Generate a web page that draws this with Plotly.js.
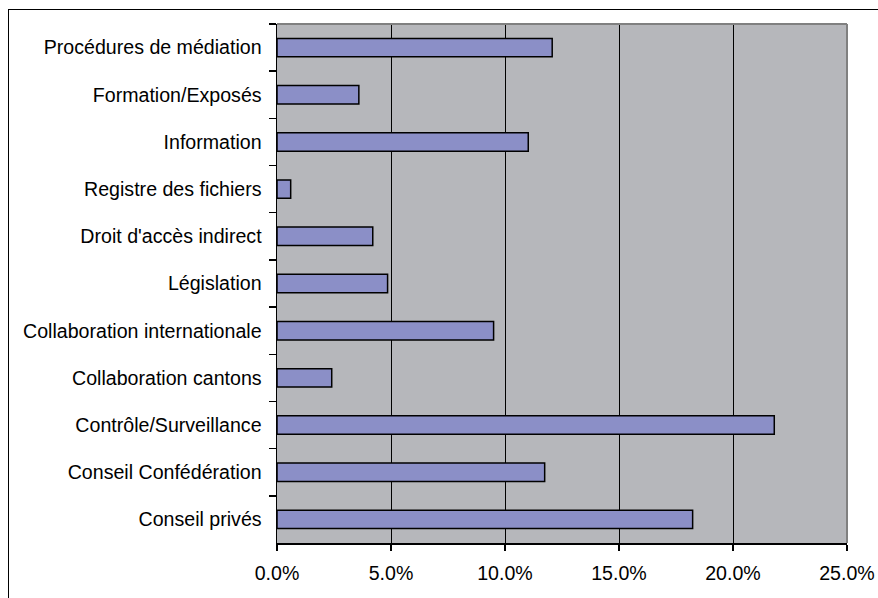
<!DOCTYPE html>
<html>
<head>
<meta charset="utf-8">
<script src="https://cdn.plot.ly/plotly-3.0.1.min.js"></script>
<style>
  html, body { margin: 0; padding: 0; background: #ffffff; }
  #wrap { position: relative; width: 878px; height: 598px; overflow: hidden; }
  #frame { position: absolute; left: 8px; top: 9px; width: 900px; height: 700px;
           border-left: 1.5px solid #000; border-top: 1.5px solid #000; }
  #chart { position: absolute; left: 0; top: 0; width: 878px; height: 598px; }
</style>
</head>
<body>
<div id="wrap">
  <div id="frame"></div>
  <div id="chart"></div>
</div>
<script>
const categories = [
  "Procédures de médiation",
  "Formation/Exposés",
  "Information",
  "Registre des fichiers",
  "Droit d'accès indirect",
  "Législation",
  "Collaboration internationale",
  "Collaboration cantons",
  "Contrôle/Surveillance",
  "Conseil Confédération",
  "Conseil privés"
];
const shares = [0.1207, 0.0359, 0.1102, 0.0060, 0.0420, 0.0485, 0.0950, 0.0240, 0.2181, 0.1174, 0.1823];
const xTickVals = [0, 0.05, 0.10, 0.15, 0.20, 0.25];
const xTickText = ["0.0%", "5.0%", "10.0%", "15.0%", "20.0%", "25.0%"];

const font = { family: "Liberation Sans, Arial, sans-serif", size: 19.6, color: "#000000" };

const trace = {
  type: "bar",
  orientation: "h",
  y: categories,
  x: shares,
  marker: { color: "#8b8fc7", line: { color: "#000000", width: 1.5 } },
  hoverinfo: "skip"
};

const layout = {
  width: 878,
  height: 598,
  margin: { l: 277, r: 31, t: 24, b: 55, pad: 0 },
  paper_bgcolor: "rgba(0,0,0,0)",
  plot_bgcolor: "#b6b7bb",
  font: font,
  showlegend: false,
  bargap: 0.61,
  xaxis: {
    range: [0, 0.25],
    tickvals: xTickVals,
    ticktext: xTickText,
    showgrid: true,
    gridcolor: "#000000",
    gridwidth: 1,
    zeroline: false,
    showline: true,
    linecolor: "#000000",
    linewidth: 1.5,
    ticks: "outside",
    ticklen: 6,
    tickcolor: "#000000",
    tickwidth: 1.5,
    ticklabelstandoff: 6,
    tickfont: font
  },
  yaxis: {
    type: "category",
    range: [10.5, -0.5],
    showgrid: false,
    zeroline: false,
    showline: true,
    linecolor: "#000000",
    linewidth: 1.5,
    ticks: "outside",
    tickson: "boundaries",
    ticklen: 7,
    tickcolor: "#000000",
    tickwidth: 1.5,
    ticklabelstandoff: 10,
    tickfont: font
  },
  shapes: [
    { type: "line", xref: "paper", yref: "paper", x0: 0, x1: 1, y0: 1, y1: 1,
      line: { color: "#808080", width: 2 }, layer: "above" },
    { type: "line", xref: "paper", yref: "paper", x0: 1, x1: 1, y0: 0, y1: 1,
      line: { color: "#808080", width: 2 }, layer: "above" }
  ]
};

Plotly.newPlot("chart", [trace], layout, { staticPlot: true, displayModeBar: false });
</script>
</body>
</html>
